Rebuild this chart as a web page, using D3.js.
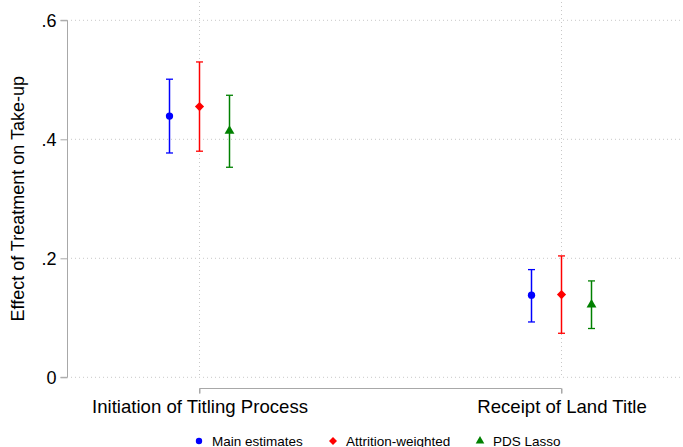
<!DOCTYPE html>
<html>
<head>
<meta charset="utf-8">
<script src="https://cdn.jsdelivr.net/npm/d3@7"></script>
<style>
  body { margin: 0; background: #fff; }
  svg { font-family: "Liberation Sans", Arial, sans-serif; }
</style>
</head>
<body>
<div id="chart"></div>
<script>
const width = 683;
const height = 447;

// data
const categories = ["Initiation of Titling Process", "Receipt of Land Title"];
const seriesNames = ["Main estimates", "Attrition-weighted", "PDS Lasso"];
const seriesColors = ["#0000ff", "#ff0000", "#008000"];
const seriesShapes = ["circle", "diamond", "triangle"];
const pointEst = [[0.439, 0.138], [0.455, 0.139], [0.414, 0.122]];
const ciLow = [[0.377, 0.093], [0.380, 0.074], [0.353, 0.082]];
const ciHigh = [[0.501, 0.181], [0.530, 0.204], [0.474, 0.162]];
const yTicks = [0, 0.2, 0.4, 0.6];

const y = d3.scaleLinear().domain([0, 0.6]).range([377.3, 20.3]);
const x = d3.scalePoint().domain(categories).range([199.5, 561.5]);
const offset = d3.scalePoint().domain(seriesNames).range([-30, 30]);

const fmt = v => v === 0 ? "0" : d3.format(".1f")(v).replace(/^0/, "");

// marker paths: diamond is a square turned 45 degrees
const markerPath = (shape, size) => {
    if (shape === "circle") return d3.symbol(d3.symbolCircle, size)();
    if (shape === "triangle") return d3.symbol(d3.symbolTriangle, size)();
    const h = Math.sqrt(size / 2);
    return `M0,${-h}L${h},0L0,${h}L${-h},0Z`;
};

const svg = d3.select("#chart").append("svg")
    .attr("width", width)
    .attr("height", height);

// gridlines
const grid = svg.append("g")
    .attr("stroke", "#c8c8c8")
    .attr("stroke-width", 1)
    .attr("stroke-dasharray", "1,3");

grid.selectAll("line.h")
    .data(yTicks)
    .join("line")
    .attr("class", "h")
    .attr("x1", 71).attr("x2", 681)
    .attr("y1", d => y(d)).attr("y2", d => y(d));

grid.selectAll("line.v")
    .data(categories)
    .join("line")
    .attr("class", "v")
    .attr("x1", d => x(d)).attr("x2", d => x(d))
    .attr("y1", 2).attr("y2", y(0));

// y axis
const yAxis = svg.append("g")
    .attr("transform", "translate(67.5,0)")
    .call(d3.axisLeft(y).tickValues(yTicks).tickFormat(fmt).tickSize(7).tickPadding(4));
yAxis.select(".domain").attr("stroke", "#a8a8a8").attr("d", `M-7,${y(0.6)}H0V${y(0)}H-7`);
yAxis.selectAll(".tick line").attr("stroke", "#a8a8a8");
yAxis.selectAll(".tick text")
    .attr("fill", "#000")
    .style("font-size", "18px")
    .style("font-family", "Liberation Sans, Arial, sans-serif");

svg.append("text")
    .attr("transform", `translate(24,${(y(0) + y(0.6)) / 2}) rotate(-90)`)
    .attr("text-anchor", "middle")
    .style("font-size", "18px")
    .text("Effect of Treatment on Take-up");

// x axis
const xAxis = svg.append("g")
    .attr("transform", "translate(0,388.5)")
    .call(d3.axisBottom(x).tickSize(5).tickPadding(8).tickSizeOuter(0));
xAxis.select(".domain").attr("stroke", "#a8a8a8").attr("d", `M${x(categories[0])},5V0H${x(categories[1])}V5`);
xAxis.selectAll(".tick line").attr("stroke", "#a8a8a8");
xAxis.selectAll(".tick text")
    .attr("fill", "#000")
    .attr("dy", "0.71em")
    .attr("y", 11)
    .style("font-size", "18.6px")
    .style("font-family", "Liberation Sans, Arial, sans-serif");

// error bars and markers
seriesNames.forEach((name, si) => {
    const rows = categories.map((c, ci) => ({
        cx: x(c) + offset(name),
        est: pointEst[si][ci],
        lo: ciLow[si][ci],
        hi: ciHigh[si][ci]
    }));
    const g = svg.append("g")
        .attr("stroke", seriesColors[si])
        .attr("fill", seriesColors[si]);

    g.selectAll("line.bar").data(rows).join("line")
        .attr("class", "bar")
        .attr("x1", d => d.cx).attr("x2", d => d.cx)
        .attr("y1", d => y(d.lo)).attr("y2", d => y(d.hi))
        .attr("stroke-width", 1.5);

    ["lo", "hi"].forEach(k => {
        g.selectAll("line.cap" + k).data(rows).join("line")
            .attr("class", "cap" + k)
            .attr("x1", d => d.cx - 3.5).attr("x2", d => d.cx + 3.5)
            .attr("y1", d => y(d[k])).attr("y2", d => y(d[k]))
            .attr("stroke-width", 1.3);
    });

    g.selectAll("path.mk").data(rows).join("path")
        .attr("class", "mk")
        .attr("stroke", "none")
        .attr("transform", d => `translate(${d.cx},${y(d.est)})`)
        .attr("d", markerPath(seriesShapes[si], 42));
});

// legend
const legendX = [199, 333, 480];
const legend = svg.append("g");
seriesNames.forEach((name, si) => {
    const lg = legend.append("g").attr("transform", `translate(${legendX[si]},441)`);
    lg.append("path")
        .attr("fill", seriesColors[si])
        .attr("d", markerPath(seriesShapes[si], 32));
    lg.append("text")
        .attr("x", 13)
        .attr("y", 4.5)
        .style("font-size", "13.5px")
        .text(name);
});
</script>
</body>
</html>
